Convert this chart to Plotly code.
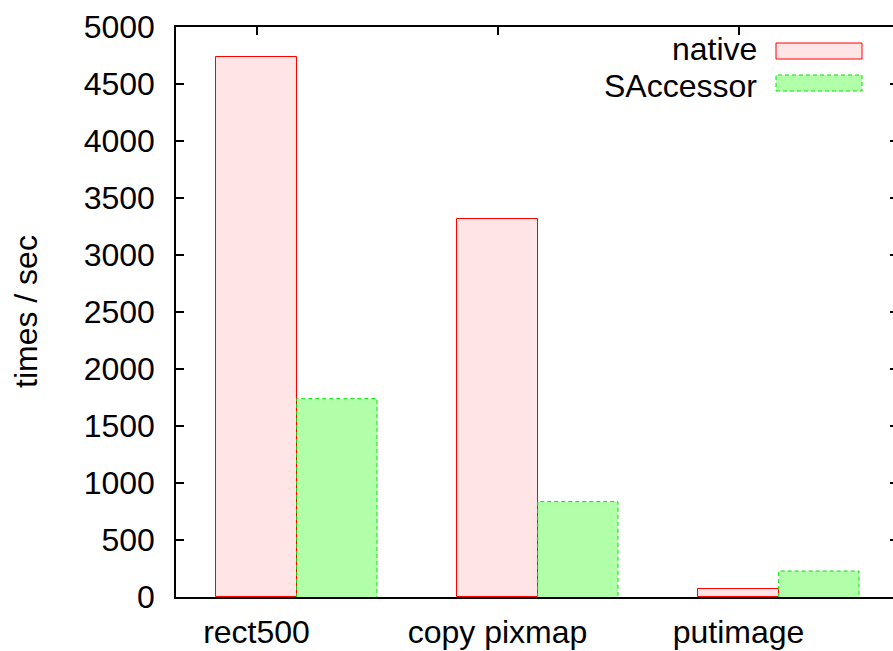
import plotly.graph_objects as go

# Benchmark results (operations per second)
categories = ["rect500", "copy pixmap", "putimage"]
native = [4740, 3320, 74]
saccessor = [1740, 837, 228]
y_ticks = [0, 500, 1000, 1500, 2000, 2500, 3000, 3500, 4000, 4500, 5000]

W, H = 893, 651
L, T, B = 176, 27, 54
plot_w = W - L
plot_h = H - T - B

bar_w = 1 / 3
pos_native = list(range(len(categories)))
pos_sacc = [p + bar_w for p in pos_native]

x_range = [-80.5 / 241, (W - 256.5) / 241]
y_range = [0, 5000]

FONT = "Liberation Sans, Arial, sans-serif"
FS = 32

native_fill = "rgb(255,229,229)"
native_edge = "rgb(255,0,0)"
sacc_fill = "rgb(178,255,170)"
sacc_edge = "rgb(0,230,0)"

fig = go.Figure()

fig.add_trace(go.Bar(
    x=pos_native, y=native, width=bar_w, name="native",
    marker=dict(color=native_fill, line=dict(color=native_edge, width=1)),
    showlegend=False,
))
fig.add_trace(go.Bar(
    x=pos_sacc, y=saccessor, width=bar_w, name="SAccessor",
    marker=dict(color=sacc_fill, line=dict(width=0)),
    showlegend=False,
))

# dashed outline for the SAccessor bars
ox, oy = [], []
for p, v in zip(pos_sacc, saccessor):
    ox += [p - bar_w / 2, p - bar_w / 2, p + bar_w / 2, p + bar_w / 2, None]
    oy += [0, v, v, 0, None]
fig.add_trace(go.Scatter(
    x=ox, y=oy, mode="lines", line=dict(color=sacc_edge, width=1, dash="4px,3px"),
    showlegend=False, hoverinfo="skip",
))

# helper trace carrying the mirrored tick axes (top and right)
fig.add_trace(go.Scatter(
    x=[0], y=[0], xaxis="x2", yaxis="y2", mode="markers",
    marker=dict(opacity=0), showlegend=False, hoverinfo="skip",
))

fig.update_layout(
    width=W, height=H,
    margin=dict(l=L, r=0, t=T, b=B),
    paper_bgcolor="white", plot_bgcolor="white",
    font=dict(family=FONT, size=FS, color="black"),
    bargap=0, barmode="overlay",
    xaxis=dict(
        range=x_range, tickvals=pos_native, ticktext=categories,
        ticks="", showline=True, linecolor="black", linewidth=1.5, mirror=True,
        showgrid=False, zeroline=False, ticklabelstandoff=6,
        tickfont=dict(family=FONT, size=FS, color="black"),
    ),
    xaxis2=dict(
        range=x_range, overlaying="x", side="top", tickvals=pos_native,
        ticks="inside", ticklen=8, tickwidth=1.5, tickcolor="black",
        showticklabels=False, showline=False, showgrid=False, zeroline=False,
    ),
    yaxis=dict(
        range=y_range, tickvals=y_ticks, ticks="inside", ticklen=8, tickwidth=1.5,
        tickcolor="black", showline=True, linecolor="black", linewidth=1.5,
        showgrid=False, zeroline=False, ticklabelstandoff=13,
        tickfont=dict(family=FONT, size=FS, color="black"),
    ),
    yaxis2=dict(
        range=y_range, overlaying="y", side="right", tickvals=y_ticks,
        ticks="inside", ticklen=3, tickwidth=1.5, tickcolor="black",
        showticklabels=False, showline=False, showgrid=False, zeroline=False,
    ),
)

def px_x(px):
    return (px - L) / plot_w

def px_y(py):
    return (T + plot_h - py) / plot_h

# y axis title
fig.add_annotation(
    text="times / sec", x=px_x(26), y=px_y(312), xref="paper", yref="paper",
    xanchor="center", yanchor="middle", textangle=-90, showarrow=False,
    font=dict(family=FONT, size=FS, color="black"),
)

# key: right-aligned labels with swatches to their right
legend_rows = [
    ("native", native_fill, native_edge, "solid", 51, 48.5),
    ("SAccessor", sacc_fill, sacc_edge, "dash", 83, 85.5),
]
for label, fill, edge, dash, cy, ty in legend_rows:
    fig.add_annotation(
        text=label, x=px_x(758), y=px_y(ty), xref="paper", yref="paper",
        xanchor="right", yanchor="middle", showarrow=False, borderpad=0,
        font=dict(family=FONT, size=FS, color="black"),
    )
    fig.add_shape(
        type="rect", xref="paper", yref="paper",
        x0=px_x(776), x1=px_x(862), y0=px_y(cy + 8), y1=px_y(cy - 8),
        fillcolor=fill, line=dict(color=edge, width=1, dash="4px,3px" if dash == "dash" else "solid"),
    )

fig.write_html("out.html")
